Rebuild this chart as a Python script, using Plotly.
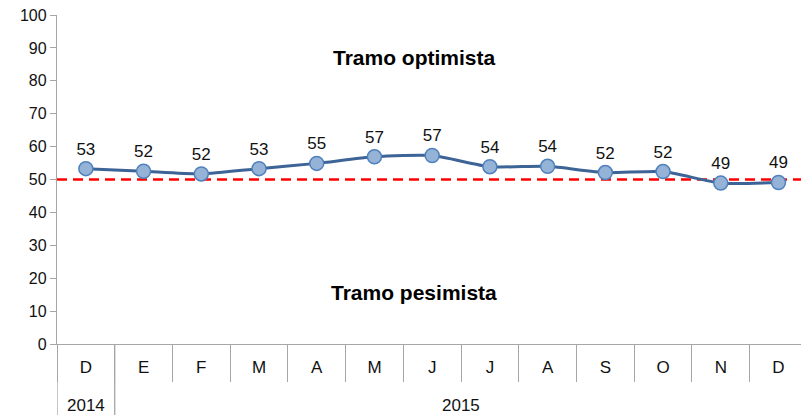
import plotly.graph_objects as go

months = ["D", "E", "F", "M", "A", "M", "J", "J", "A", "S", "O", "N", "D"]
values = [53.3, 52.5, 51.7, 53.3, 54.9, 56.9, 57.3, 53.9, 54.0, 52.1, 52.4, 48.9, 49.1]
labels = [53, 52, 52, 53, 55, 57, 57, 54, 54, 52, 52, 49, 49]
years = ["2014", "2015"]
year_span = [(0, 0), (1, 12)]  # index range of months for each year
threshold = 50
zone_labels = ["Tramo optimista", "Tramo pesimista"]
zone_y = [87.2, 15.7]

xs = list(range(len(months)))
axis_grey = "#a6a6a6"
font = "Liberation Sans, Arial, sans-serif"
txt_col = "#111111"

fig = go.Figure()

fig.add_trace(go.Scatter(
    x=xs, y=values,
    mode="lines+markers+text",
    line=dict(color="#3c6496", width=3, shape="spline", smoothing=0.6),
    marker=dict(size=14, color="#95b3d7", line=dict(color="#4f81bd", width=1.5)),
    text=[str(v) for v in labels],
    textposition="top center",
    textfont=dict(family=font, size=17, color=txt_col),
    cliponaxis=False,
    hoverinfo="skip",
))

fig.add_shape(type="line", xref="paper", yref="y", x0=0, x1=1, y0=threshold, y1=threshold,
              line=dict(color="#ff0000", width=2.5, dash="10px,6px"), layer="below")

# year separators running through both label rows
for (a, b) in year_span:
    edge = a - 0.5
    fig.add_shape(type="line", xref="x", yref="paper", x0=edge, x1=edge, y0=0, y1=-0.25,
                  line=dict(color=axis_grey, width=1.3))
for (a, b), yr in zip(year_span, years):
    fig.add_annotation(x=(a + b) / 2, xref="x", y=-0.187, yref="paper", text=yr,
                       showarrow=False, font=dict(family=font, size=17, color=txt_col),
                       yanchor="middle")

for txt, yy in zip(zone_labels, zone_y):
    fig.add_annotation(x=0.48, xref="paper", y=yy, yref="y", text="<b>%s</b>" % txt,
                       showarrow=False, font=dict(family=font, size=21, color="#000000"),
                       yanchor="middle")

fig.update_layout(
    width=801, height=415,
    margin=dict(l=57, r=0, t=15, b=71, autoexpand=False),
    paper_bgcolor="white", plot_bgcolor="white",
    showlegend=False,
    xaxis=dict(
        type="category",
        tickmode="array", tickvals=xs, ticktext=months,
        range=[-0.5, 12.39],
        tickson="boundaries", ticks="outside", ticklen=37, tickwidth=1.3, tickcolor=axis_grey,
        showline=True, linecolor=axis_grey, linewidth=1.3,
        showgrid=False, zeroline=False,
        tickfont=dict(family=font, size=17, color=txt_col),
        ticklabelstandoff=7,
        automargin=False,
        fixedrange=True,
    ),
    yaxis=dict(
        range=[0, 100], dtick=10, tick0=0,
        ticks="outside", ticklen=6, tickwidth=1.3, tickcolor=axis_grey,
        showline=True, linecolor=axis_grey, linewidth=1.3,
        showgrid=False, zeroline=False,
        tickfont=dict(family=font, size=16, color=txt_col),
        automargin=False,
        fixedrange=True,
    ),
)

fig.write_html("out.html", config={"displayModeBar": False},
               post_script="document.body.style.margin='0';document.body.style.overflow='hidden';")
